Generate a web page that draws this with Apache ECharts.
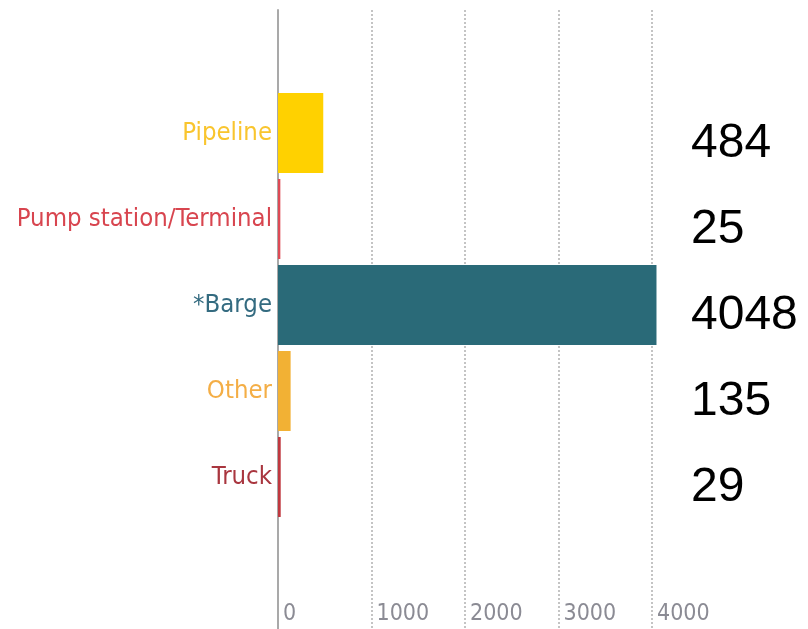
<!DOCTYPE html>
<html>
<head>
<meta charset="utf-8">
<script src="https://cdn.jsdelivr.net/npm/echarts@6/dist/echarts.min.js"></script>
<style>
  html, body { margin: 0; padding: 0; background: #fff; }
  #chart { width: 808px; height: 629px; }
</style>
</head>
<body>
<div id="chart"></div>
<script>
// empty slots at top and bottom keep the spacing of the original
const categories = ['', 'Pipeline', 'Pump station/Terminal', '*Barge', 'Other', 'Truck', '']
const values = [null, 484, 25, 4048, 135, 29, null]
const barColors = [null, '#FFD100', '#DE4A55', '#2A6A78', '#F2B134', '#C0383F', null]
const labelColors = [null, '#F9C52E', '#D8454F', '#346B80', '#F4AE46', '#A9363F', null]
const xTicks = [0, 1000, 2000, 3000, 4000]

const condensed = '"DejaVu Sans Condensed", "Liberation Sans Narrow", sans-serif'

const chart = echarts.init(document.getElementById('chart'))

chart.setOption({
  backgroundColor: '#fff',
  animation: false,
  grid: [
    { left: 278, right: 156, top: 4, bottom: 23 },  // bars
    { left: 278, right: 156, top: 10, bottom: 0 },  // axis line, grid lines, ticks
  ],
  xAxis: [
    {
      gridIndex: 0,
      type: 'value',
      min: xTicks[0],
      max: xTicks[xTicks.length - 1],
      interval: 1000,
      show: false,
    },
    {
      gridIndex: 1,
      type: 'value',
      min: xTicks[0],
      max: xTicks[xTicks.length - 1],
      interval: 1000,
      axisLine: { show: false },
      axisTick: { show: false },
      splitLine: {
        show: true,
        lineStyle: { color: '#c4c4c4', width: 2, type: [2, 2] }
      },
      axisLabel: {
        inside: true,
        margin: 15,
        align: 'left',
        verticalAlign: 'middle',
        padding: [0, 0, 0, 5],
        color: '#8b8b94',
        fontSize: 23,
        fontFamily: condensed,
        formatter: v => String(v),
      },
    },
  ],
  yAxis: [
    {
      gridIndex: 0,
      type: 'category',
      inverse: true,
      data: categories,
      axisLine: { show: false },
      axisTick: { show: false },
      splitLine: { show: false },
      axisLabel: {
        margin: 6,
        fontSize: 25.5,
        fontFamily: condensed,
        color: (value, index) => labelColors[index] || '#666',
      },
    },
    {
      gridIndex: 1,
      type: 'value',
      axisLine: { show: true, lineStyle: { color: '#a9a9a9', width: 2 } },
      axisTick: { show: false },
      axisLabel: { show: false },
      splitLine: { show: false },
    },
  ],
  series: [
    {
      type: 'bar',
      xAxisIndex: 0,
      yAxisIndex: 0,
      clip: false,
      barCategoryGap: '7%',
      data: values.map((v, i) => ({
        value: v,
        itemStyle: { color: barColors[i] }
      })),
      label: {
        show: true,
        position: [413, '50%'],
        offset: [0, 11],
        align: 'left',
        verticalAlign: 'middle',
        color: '#000',
        fontSize: 48,
        fontFamily: '"Liberation Sans", Arial, sans-serif',
        formatter: p => p.value == null ? '' : String(p.value),
      },
    },
  ],
})
</script>
</body>
</html>
